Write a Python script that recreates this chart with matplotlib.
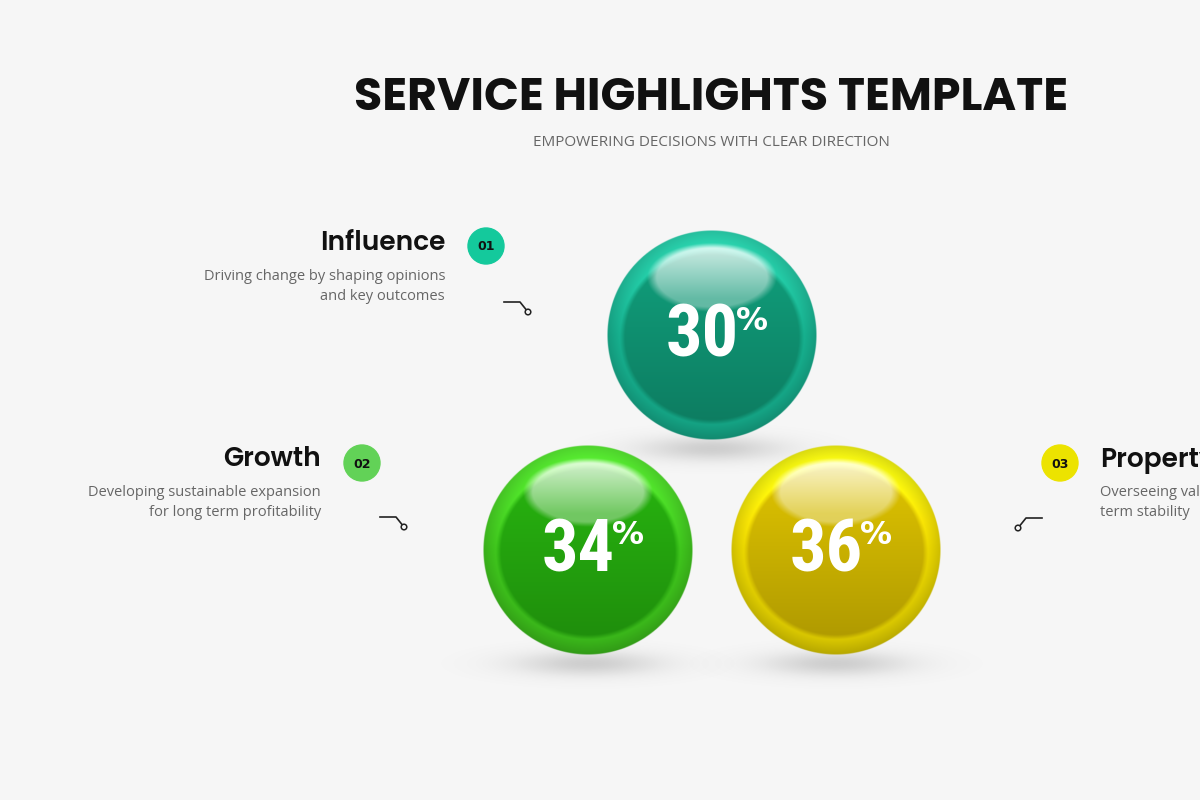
import numpy as np
import matplotlib
matplotlib.use("Agg")
import matplotlib.pyplot as plt
from matplotlib.patches import Circle
from matplotlib.colors import to_rgb

values = [30, 34, 36]
numbers = ["01", "02", "03"]
titles = ["Influence", "Growth", "Property"]
descs = [["Driving change by shaping opinions", "and key outcomes"],
         ["Developing sustainable expansion", "for long term profitability"],
         ["Overseeing valuable assets for long", "term stability"]]
sphere_colors = ["#16ad8c", "#3ec21c", "#e6d300"]
inner_colors = ["#0f9070", "#24a40e", "#cbb200"]
badge_colors = ["#14c99c", "#62d257", "#ece300"]

W, H = 1200, 800
fig = plt.figure(figsize=(12, 8), dpi=100)
fig.patch.set_facecolor("#f6f6f6")
ax = fig.add_axes([0, 0, 1, 1])
ax.set_xlim(0, W); ax.set_ylim(H, 0); ax.axis("off")
ax.set_facecolor("#f6f6f6")

ax.text(711, 99, "SERVICE HIGHLIGHTS TEMPLATE", ha="center", va="center",
        fontsize=33, fontweight="bold", family=["Poppins", "Open Sans", "DejaVu Sans"], color="#111111")
ax.text(711, 142, "EMPOWERING DECISIONS WITH CLEAR DIRECTION", ha="center", va="center",
        fontsize=11, family=["Open Sans", "DejaVu Sans"], color="#666666")

centers = [(712, 335), (588, 550), (836, 550)]
R = 105

def sphere(cx, cy, r, c, ci, z):
    n = 240
    xs = np.linspace(-1.6, 1.6, n); ys = np.linspace(-0.6, 0.6, n // 2)
    X, Y = np.meshgrid(xs, ys)
    a = np.exp(-(X**2 + (Y / 0.35)**2) * 2.2) * 0.3
    img = np.zeros(Y.shape + (4,)); img[..., :3] = 0.45; img[..., 3] = a
    ax.imshow(img, extent=(cx - 1.6 * r, cx + 1.6 * r, cy + r * 1.08 + 0.3 * r, cy + r * 1.08 - 0.3 * r),
              zorder=z, interpolation="bilinear")
    n = 400
    g = np.linspace(-1, 1, n)
    X, Y = np.meshgrid(g, g)
    D = np.sqrt(X**2 + Y**2)
    c = np.array(to_rgb(c)); ci = np.array(to_rgb(ci))
    img = np.zeros((n, n, 4))
    col = c[None, None, :] * (1.05 - 0.12 * Y[..., None])
    col = np.clip(col + 0.08 * np.clip(-Y[..., None], 0, 1), 0, 1)
    Di = np.sqrt(X**2 + ((Y - 0.02) / 0.95)**2)
    inner = np.clip((0.88 - Di) / 0.05, 0, 1)[..., None]
    icol = ci[None, None, :] * (1.02 + 0.15 * Y[..., None] * -1) * 0.97
    col = col * (1 - inner) + np.clip(icol, 0, 1) * inner
    Dh = np.sqrt((X / 0.62)**2 + ((Y + 0.55) / 0.33)**2)
    hl = np.clip((1 - Dh) / 0.15, 0, 1) * (0.35 + 0.45 * np.clip(-(Y + 0.35) / 0.5, 0, 1))
    col = col * (1 - hl[..., None]) + hl[..., None]
    col = col * (1 - 0.15 * np.clip((D - 0.85) / 0.15, 0, 1))[..., None]
    img[..., :3] = np.clip(col, 0, 1)
    img[..., 3] = np.clip((1 - D) * 200, 0, 1)
    ax.imshow(img, extent=(cx - r, cx + r, cy + r, cy - r), zorder=z + 1, interpolation="bilinear")

for i, (cx, cy) in enumerate(centers):
    sphere(cx, cy, R, sphere_colors[i], inner_colors[i], 2 + i * 3)
    ax.text(cx - 10, cy + 2, str(values[i]), ha="center", va="center", color="white", fontsize=52,
            fontweight="bold", family=["Liberation Sans Narrow", "Roboto Condensed", "DejaVu Sans"],
            zorder=4 + i * 3)
    ax.text(cx + 24, cy - 14, "%", ha="left", va="center", color="white", fontsize=23,
            fontweight="bold", family=["Liberation Sans Narrow", "DejaVu Sans"], zorder=4 + i * 3)

tf = ["Poppins", "Open Sans", "DejaVu Sans"]
badges = [(486, 246), (362, 463), (1060, 463)]
title_pos = [(445, 244, "right"), (321, 460, "right"), (1100, 460, "left")]
desc_pos = [(445, 277, "right"), (321, 493, "right"), (1100, 493, "left")]
for i in range(3):
    bx, by = badges[i]
    ax.add_patch(Circle((bx, by), 18, color=badge_colors[i], zorder=20))
    ax.text(bx, by + 1, numbers[i], ha="center", va="center", fontsize=9, fontweight="bold",
            family=["Liberation Sans Narrow", "DejaVu Sans"], color="#111111", zorder=21)
    x, y, ha = title_pos[i]
    ax.text(x, y, titles[i], ha=ha, va="center", fontsize=19, fontweight="semibold", family=tf,
            color="#111111", zorder=21)
    x, y, ha = desc_pos[i]
    for k, line in enumerate(descs[i]):
        ax.text(x, y + 20 * k, line, ha=ha, va="center", fontsize=10.5, family=["Open Sans", "DejaVu Sans"],
                color="#666666", zorder=21)

conns = [((504, 302), (520, 302), (528, 312)), ((380, 517), (396, 517), (404, 527)),
         ((1042, 518), (1026, 518), (1018, 528))]
for p in conns:
    ax.plot([q[0] for q in p], [q[1] for q in p], color="#222222", lw=1.2, zorder=20)
    ax.add_patch(Circle(p[2], 2.8, facecolor="#f6f6f6", edgecolor="#222222", lw=1.1, zorder=21))

fig.savefig("out.png", dpi=100, facecolor=fig.get_facecolor())
